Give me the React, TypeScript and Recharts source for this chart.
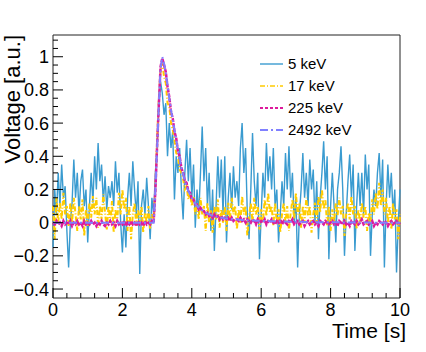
import { LineChart, Line, XAxis, YAxis, ReferenceArea, Legend } from 'recharts'

const font = '"Liberation Sans", Arial, Helvetica, sans-serif'

// one sample every 0.05 s, from 0 to 10 s
const sampleStep = 0.05

const v5keV = [
  -0.15, 0.2, 0.05, 0.3, 0.1, 0.35, 0.15, 0.22, -0.05, -0.27,
  0.0, 0.12, 0.38, 0.15, 0.3, 0.05, 0.25, 0.32, 0.1, 0.2,
  -0.12, 0.1, 0.3, 0.12, 0.4, 0.2, 0.48, 0.25, 0.35, 0.12,
  0.28, 0.08, 0.22, 0.15, 0.25, 0.1, 0.37, 0.18, 0.3, 0.0,
  -0.18, 0.05, -0.15, 0.15, 0.3, 0.1, 0.37, 0.2, 0.05, 0.25,
  -0.31, 0.1, 0.2, 0.05, 0.27, 0.1, -0.1, 0.15, 0.05, 0.3,
  0.45, 0.7, 0.85, 0.78, 0.65, 0.72, 0.4, 0.6, 0.45, 0.55,
  0.14, 0.4, 0.3, 0.45, 0.2, 0.02, 0.3, 0.5, 0.25, 0.45,
  0.15, 0.35, -0.03, 0.2, 0.05, 0.3, 0.58, 0.25, 0.45, 0.1,
  0.3, -0.05, 0.2, -0.17, 0.1, 0.4, 0.15, 0.38, 0.05, 0.4,
  -0.12, 0.15, 0.3, 0.08, 0.34, 0.15, 0.25, 0.1, 0.45, 0.6,
  0.3, 0.45, 0.05, -0.1, 0.2, 0.54, 0.25, 0.1, 0.3, -0.22,
  0.05, 0.3, 0.15, 0.48, 0.25, 0.4, 0.2, 0.45, 0.1, 0.2,
  -0.12, 0.05, 0.25, 0.1, 0.42, 0.2, 0.46, 0.15, 0.3, 0.0,
  0.15, -0.27, 0.05, 0.2, 0.42, 0.15, 0.3, 0.1, 0.38, 0.2,
  0.32, 0.0, 0.25, -0.1, 0.15, 0.3, 0.49, 0.2, 0.4, -0.22,
  0.1, 0.3, 0.1, -0.12, 0.2, 0.3, 0.46, 0.2, -0.2, 0.05,
  0.25, 0.41, 0.15, 0.35, -0.17, 0.1, 0.3, 0.1, 0.3, 0.05,
  0.41, 0.2, 0.35, -0.2, 0.05, 0.2, 0.1, 0.3, 0.42, 0.15,
  0.38, -0.27, 0.1, 0.35, 0.15, 0.3, 0.05, 0.2, -0.3, 0.0,
  0.2,
]

const v17keV = [
  0.1, -0.1, 0.15, 0.0, 0.12, 0.02, 0.18, 0.05, 0.1, -0.02,
  0.12, 0.0, 0.15, 0.05, -0.05, 0.1, 0.02, 0.14, -0.08, 0.08,
  -0.02, 0.12, 0.03, 0.16, 0.05, 0.15, -0.03, 0.1, 0.02, 0.17,
  0.06, -0.04, 0.1, 0.0, 0.13, -0.06, 0.08, 0.0, 0.18, 0.05,
  0.2, 0.08, 0.15, -0.05, 0.1, -0.1, 0.05, 0.12, -0.02, 0.08,
  0.0, 0.1, -0.06, 0.06, 0.0, 0.1, -0.04, 0.05, 0.02, 0.22,
  0.5, 0.75, 0.92, 0.96, 0.88, 0.84, 0.72, 0.7, 0.6, 0.56,
  0.5, 0.42, 0.4, 0.32, 0.3, 0.26, 0.2, 0.22, 0.14, 0.18,
  0.1, 0.16, 0.05, 0.12, 0.02, 0.15, 0.05, 0.1, -0.05, 0.12,
  0.0, 0.08, -0.06, 0.1, 0.02, 0.14, -0.03, 0.08, 0.0, 0.1,
  -0.05, 0.12, 0.02, 0.15, 0.05, 0.1, -0.04, 0.08, 0.0, 0.16,
  0.05, 0.1, -0.08, 0.04, 0.12, 0.0, 0.15, 0.05, 0.1, -0.04,
  0.08, 0.0, 0.14, 0.04, 0.18, 0.06, 0.1, -0.02, 0.12, 0.0,
  0.08, -0.06, 0.05, 0.12, 0.0, 0.1, -0.05, 0.06, 0.14, 0.02,
  0.18, 0.05, 0.12, -0.03, 0.1, 0.0, 0.15, 0.04, 0.1, -0.06,
  0.05, 0.12, 0.0, 0.16, 0.06, 0.2, 0.08, 0.14, -0.02, 0.1,
  -0.05, 0.08, 0.0, 0.12, 0.04, 0.15, 0.05, 0.1, -0.08, 0.05,
  0.12, 0.02, 0.16, 0.05, 0.1, -0.04, 0.08, 0.0, 0.12, 0.03,
  0.1, -0.05, 0.06, 0.0, 0.14, 0.05, 0.18, 0.08, 0.24, 0.1,
  0.2, 0.05, 0.15, 0.0, 0.1, -0.04, 0.12, 0.02, 0.08, -0.1,
  0.05,
]

const v225keV = [
  0.0, -0.01, 0.01, -0.01, 0.0, -0.02, 0.01, -0.01, 0.0, -0.01,
  0.01, -0.02, 0.0, -0.01, 0.01, -0.01, 0.0, -0.02, 0.01, -0.01,
  0.0, -0.01, 0.01, -0.01, 0.0, -0.02, 0.0, -0.01, 0.01, -0.01,
  -0.02, 0.0, -0.01, 0.01, -0.01, 0.0, -0.02, 0.01, -0.01, 0.0,
  -0.01, 0.01, -0.02, 0.0, -0.01, 0.01, -0.01, 0.0, -0.02, 0.01,
  -0.01, 0.0, -0.02, 0.01, -0.01, 0.0, -0.01, 0.01, 0.0, 0.19,
  0.46, 0.71, 0.94, 0.99, 0.95, 0.91, 0.82, 0.76, 0.67, 0.63,
  0.55, 0.51, 0.43, 0.4, 0.33, 0.3, 0.25, 0.24, 0.19, 0.18,
  0.14, 0.14, 0.11, 0.11, 0.08, 0.09, 0.07, 0.07, 0.05, 0.06,
  0.04, 0.05, 0.03, 0.05, 0.03, 0.04, 0.02, 0.04, 0.02, 0.03,
  0.02, 0.03, 0.01, 0.03, 0.01, 0.02, 0.02, 0.01, 0.03, 0.01,
  0.02, 0.0, 0.02, 0.01, 0.0, 0.02, 0.01, -0.01, 0.02, 0.0,
  0.01, 0.0, 0.02, -0.01, 0.01, 0.0, 0.02, 0.0, -0.01, 0.01,
  0.0, 0.02, -0.01, 0.01, 0.0, -0.01, 0.01, 0.0, 0.02, -0.01,
  0.0, 0.01, -0.01, 0.0, 0.01, -0.02, 0.0, 0.01, -0.01, 0.0,
  0.01, -0.01, 0.0, -0.02, 0.01, 0.0, -0.01, 0.01, 0.0, -0.01,
  0.0, 0.01, -0.01, 0.0, -0.02, 0.01, 0.0, -0.01, 0.01, -0.01,
  0.0, -0.02, 0.01, 0.0, -0.01, 0.01, -0.01, 0.0, 0.02, -0.01,
  0.0, 0.01, -0.01, 0.0, 0.01, -0.02, 0.0, -0.01, 0.01, 0.0,
  -0.01, 0.01, 0.0, -0.02, 0.0, 0.01, -0.01, 0.0, 0.01, -0.01,
  0.0,
]

const v2492keV = [
  0, 0, 0, 0, 0, 0, 0, 0, 0, 0,
  0, 0, 0, 0, 0, 0, 0, 0, 0, 0,
  0, 0, 0, 0, 0, 0, 0, 0, 0, 0,
  0, 0, 0, 0, 0, 0, 0, 0, 0, 0,
  0, 0, 0, 0, 0, 0, 0, 0, 0, 0,
  0, 0, 0, 0, 0, 0, 0, 0, 0, 0.2,
  0.45, 0.72, 0.93, 1.0, 0.96, 0.9, 0.83, 0.75, 0.68, 0.62,
  0.56, 0.5, 0.44, 0.39, 0.33, 0.29, 0.25, 0.22, 0.19, 0.17,
  0.15, 0.13, 0.115, 0.1, 0.09, 0.08, 0.075, 0.07, 0.06, 0.055,
  0.05, 0.045, 0.04, 0.04, 0.035, 0.035, 0.03, 0.03, 0.03, 0.025,
  0.025, 0.025, 0.02, 0.02, 0.02, 0.02, 0.02, 0.018, 0.018, 0.016,
  0.016, 0.015, 0.015, 0.014, 0.014, 0.013, 0.013, 0.012, 0.012, 0.011,
  0.011, 0.01, 0.01, 0.01, 0.01, 0.009, 0.009, 0.009, 0.008, 0.008,
  0.008, 0.008, 0.007, 0.007, 0.007, 0.007, 0.006, 0.006, 0.006, 0.006,
  0.005, 0.005, 0.005, 0.005, 0.005, 0.004, 0.004, 0.004, 0.004, 0.004,
  0.004, 0.003, 0.003, 0.003, 0.003, 0.003, 0.003, 0.003, 0.002, 0.002,
  0.002, 0.002, 0.002, 0.002, 0.002, 0.002, 0.002, 0.001, 0.001, 0.001,
  0.001, 0.001, 0.001, 0.001, 0.001, 0.001, 0.001, 0.001, 0.001, 0.001,
  0.001, 0.001, 0.001, 0, 0, 0, 0, 0, 0, 0,
  0, 0, 0, 0, 0, 0, 0, 0, 0, 0,
  0,
]

const seriesNames = ['5 keV', '17 keV', '225 keV', '2492 keV']

const xTicks = [0, 0.4, 0.8, 1.2, 1.6, 2, 2.4, 2.8, 3.2, 3.6, 4, 4.4, 4.8, 5.2, 5.6, 6, 6.4, 6.8, 7.2, 7.6, 8, 8.4, 8.8, 9.2, 9.6, 10]
const xLabelTicks = [0, 2, 4, 6, 8, 10]
const yTicks = [
  -0.4, -0.35, -0.3, -0.25, -0.2, -0.15, -0.1, -0.05, 0, 0.05, 0.1, 0.15, 0.2, 0.25, 0.3, 0.35,
  0.4, 0.45, 0.5, 0.55, 0.6, 0.65, 0.7, 0.75, 0.8, 0.85, 0.9, 0.95, 1, 1.05, 1.1,
]
const yLabelTicks = [-0.4, -0.2, 0, 0.2, 0.4, 0.6, 0.8, 1]

const yMin = -0.454
const yMax = 1.131

const styles = [
  { key: 's5', color: '#3a9bd0', width: 1.4, dash: undefined },
  { key: 's17', color: '#ffcc00', width: 2, dash: '5 2 1 2' },
  { key: 's225', color: '#dd1a9c', width: 2.5, dash: '4 1' },
  { key: 's2492', color: '#8080ff', width: 2, dash: '8 3 2 3' },
]

const legendStyles = [
  { color: '#3a9bd0', width: 1.4, dash: undefined },
  { color: '#ffcc00', width: 1.5, dash: '5 2 1 2' },
  { color: '#dd1a9c', width: 2, dash: '3 2' },
  { color: '#8080ff', width: 2, dash: '8 3 2 3' },
]

const rows = v5keV.map((_, i) => ({
  t: i * sampleStep,
  s5: v5keV[i],
  s17: v17keV[i],
  s225: v225keV[i],
  s2492: v2492keV[i],
}))

const isMajor = (list: number[], v: number) => list.some((m) => Math.abs(m - v) < 1e-6)

const fmt = (v: number) => {
  const r = Math.round(v * 10) / 10
  return r < 0 ? '\u2212' + String(Math.abs(r)) : String(r)
}

// ROOT-style ticks: drawn inside the frame, labels only on the majors
function YTick({ x, y, payload }: any) {
  const v = payload.value
  const major = isMajor(yLabelTicks, v)
  return (
    <g>
      <line x1={x} x2={x + (major ? 10 : 5)} y1={y} y2={y} stroke="#000" />
      {major && (
        <text x={x - 4} y={y} dy="0.36em" textAnchor="end" fontSize={18} fontFamily={font} fill="#000">
          {fmt(v)}
        </text>
      )}
    </g>
  )
}

function XTick({ x, y, payload }: any) {
  const v = payload.value
  const major = isMajor(xLabelTicks, v)
  return (
    <g>
      <line x1={x} x2={x} y1={y} y2={y - (major ? 10 : 5)} stroke="#000" />
      {major && (
        <text x={x} y={y + 18} textAnchor="middle" fontSize={18} fontFamily={font} fill="#000">
          {fmt(v)}
        </text>
      )}
    </g>
  )
}

function LegendBox() {
  return (
    <svg width={150} height={92}>
      {seriesNames.map((name, i) => (
        <g key={name}>
          <line
            x1={5}
            x2={28}
            y1={12 + i * 22}
            y2={12 + i * 22}
            stroke={legendStyles[i].color}
            strokeWidth={legendStyles[i].width}
            strokeDasharray={legendStyles[i].dash}
          />
          <text x={33} y={12 + i * 22} dy="0.36em" fontSize={15} fontFamily={font} fill="#000">
            {name}
          </text>
        </g>
      ))}
    </svg>
  )
}

export default function App() {
  return (
    <div style={{ width: 426, height: 352, background: '#fff' }}>
      <style>{'body{margin:0}'}</style>
      <LineChart width={426} height={352} data={rows} margin={{ top: 35, right: 26, bottom: 0, left: 0 }}>
        <XAxis
          dataKey="t"
          type="number"
          domain={[0, 10]}
          ticks={xTicks}
          interval={0}
          height={54}
          tickSize={0}
          tickMargin={0}
          axisLine={false}
          tick={<XTick />}
          label={() => (
            <text x={406} y={338} textAnchor="end" fontSize={21} fontFamily={font} fill="#000">
              Time [s]
            </text>
          )}
        />
        <YAxis
          type="number"
          domain={[yMin, yMax]}
          allowDataOverflow
          ticks={yTicks}
          interval={0}
          width={53}
          tickSize={0}
          tickMargin={0}
          axisLine={false}
          tick={<YTick />}
          label={() => (
            <text
              x={20}
              y={35}
              transform="rotate(-90 20 35)"
              textAnchor="end"
              fontSize={22}
              fontFamily={font}
              fill="#000"
            >
              Voltage [a.u.]
            </text>
          )}
        />
        <ReferenceArea x1={0} x2={10} y1={yMin} y2={yMax} fill="none" stroke="#222" strokeWidth={1} ifOverflow="visible" />
        {styles.map((s, i) => (
          <Line
            key={s.key}
            dataKey={s.key}
            name={seriesNames[i]}
            type="linear"
            stroke={s.color}
            strokeWidth={s.width}
            strokeDasharray={s.dash}
            dot={false}
            activeDot={false}
            isAnimationActive={false}
          />
        ))}
        <Legend
          layout="vertical"
          align="center"
          verticalAlign="middle"
          wrapperStyle={{ left: 255, top: 52, width: 150 }}
          content={() => <LegendBox />}
        />
      </LineChart>
    </div>
  )
}
